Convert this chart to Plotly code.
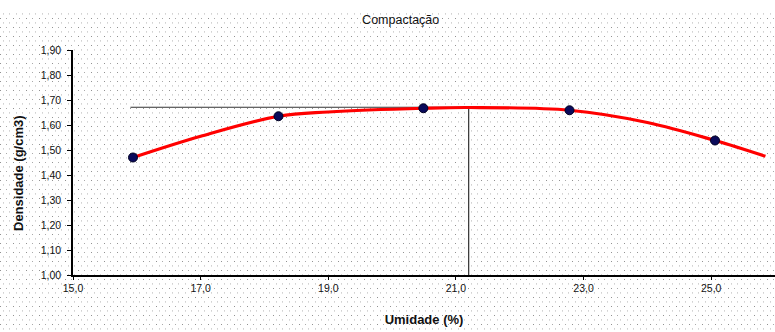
import base64
import struct
import zlib

import plotly.graph_objects as go

# Measured points (umidade %, densidade g/cm3)
umidade = [15.94, 18.22, 20.49, 22.78, 25.06]
densidade = [1.47, 1.635, 1.667, 1.659, 1.538]

# Trend curve
curva_x = [15.94, 17.0, 18.22, 19.0, 20.5, 21.2, 22.78, 24.0, 25.06, 25.85]
curva_y = [1.47, 1.555, 1.635, 1.652, 1.667, 1.670, 1.659, 1.61, 1.538, 1.475]

# Optimum reference lines
umidade_otima = 21.2
densidade_max = 1.671
ref_x_inicio = 15.9
y_min = 1.0

W, H = 775, 332
ML, MR, MT, MB = 73, 0, 50, 57


def dotted_png(w, h):
    """Light dotted texture like the Excel chart background."""
    rows = []
    for j in range(h):
        row = bytearray([0])
        r = j % 9
        for i in range(w):
            v = 255
            if j >= 10:
                if r == 0:
                    if i % 13 in (0, 6):
                        v = 145 if i % 13 == 0 else 170
                elif r == 4 or r == 5:
                    if i % 13 in (3, 9):
                        v = 210 if r == 4 else 222
            row.append(v)
        rows.append(bytes(row))
    raw = b"".join(rows)

    def chunk(tag, data):
        c = struct.pack(">I", len(data)) + tag + data
        return c + struct.pack(">I", zlib.crc32(tag + data) & 0xFFFFFFFF)

    png = b"\x89PNG\r\n\x1a\n"
    png += chunk(b"IHDR", struct.pack(">IIBBBBB", w, h, 8, 0, 0, 0, 0))
    png += chunk(b"IDAT", zlib.compress(raw, 9))
    png += chunk(b"IEND", b"")
    return "data:image/png;base64," + base64.b64encode(png).decode()


pw, ph = W - ML - MR, H - MT - MB

fig = go.Figure()
fig.add_trace(go.Scatter(x=[ref_x_inicio, umidade_otima, umidade_otima],
                         y=[densidade_max, densidade_max, y_min],
                         mode="lines", line=dict(color="#333333", width=1.2),
                         showlegend=False, hoverinfo="skip"))
fig.add_trace(go.Scatter(x=curva_x, y=curva_y, mode="lines",
                         line=dict(color="#ff0000", width=3.2, shape="spline"),
                         showlegend=False))
fig.add_trace(go.Scatter(x=umidade, y=densidade, mode="markers",
                         marker=dict(color="#0a0a5a", size=9,
                                     line=dict(color="#000022", width=1)),
                         showlegend=False))

fig.add_layout_image(dict(
    source=dotted_png(W, H), xref="paper", yref="paper",
    x=-ML / pw, y=1 + MT / ph, sizex=W / pw, sizey=H / ph,
    xanchor="left", yanchor="top", sizing="stretch", layer="below"))

fig.add_annotation(text="<b>Densidade (g/cm3)</b>", textangle=-90,
                   xref="paper", yref="paper",
                   x=(18 - ML) / pw, y=1 - (173 - MT) / ph,
                   xanchor="center", yanchor="middle", showarrow=False,
                   font=dict(size=13, color="#111111"))

fig.update_layout(
    width=W, height=H,
    margin=dict(l=ML, r=MR, t=MT, b=MB),
    paper_bgcolor="white", plot_bgcolor="rgba(0,0,0,0)",
    separators=",.",
    font=dict(family="Liberation Sans, Arial", size=10.5, color="#111111"),
    title=dict(text="Compactação", x=0.517, xanchor="center", y=0.94,
               yanchor="middle", font=dict(size=12.5)),
    xaxis=dict(range=[15, 26], tick0=15, dtick=2, tickformat=".1f",
               showgrid=False, zeroline=False, showline=True,
               linecolor="black", linewidth=1.5, ticks="outside",
               ticklen=3, tickcolor="black",
               title=dict(text="<b>Umidade (%)</b>", standoff=22,
                          font=dict(size=13))),
    yaxis=dict(range=[1.0, 1.9], tick0=1.0, dtick=0.1, tickformat=".2f",
               showgrid=False, zeroline=False, showline=True,
               linecolor="black", linewidth=1.5, ticks="outside",
               ticklen=4, tickcolor="black", ticklabelstandoff=4),
)

fig.write_html("out.html")
